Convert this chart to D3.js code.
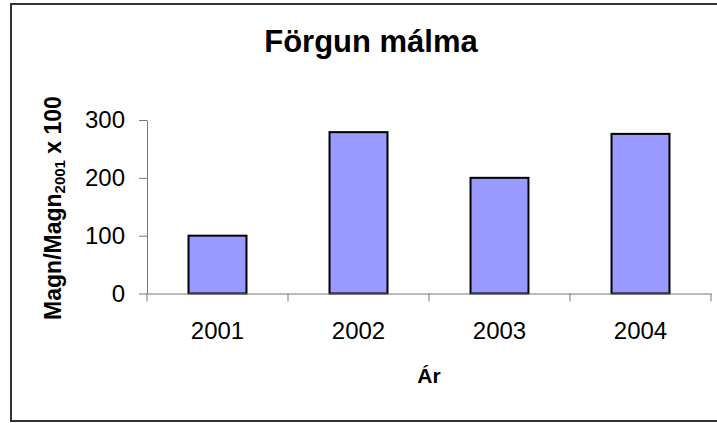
<!DOCTYPE html>
<html>
<head>
<meta charset="utf-8">
<script src="https://cdn.jsdelivr.net/npm/d3@7"></script>
<style>
  body { margin: 0; background: #fff; }
  svg { display: block; font-family: "Liberation Sans", Arial, sans-serif; }
</style>
</head>
<body>
<svg id="chart" width="717" height="423"></svg>
<script>
let years = ["2001", "2002", "2003", "2004"],
    values = [100, 279, 200, 276],
    yTicks = [0, 100, 200, 300];

let plot = {left: 147, right: 711, top: 120, bottom: 293.5};

let svg = d3.select("#chart");

// outer frame (runs off the right edge like the original)
svg.append("rect")
  .attr("x", 11).attr("y", 4)
  .attr("width", 730).attr("height", 417)
  .attr("fill", "#fff")
  .attr("stroke", "#333")
  .attr("stroke-width", 2);

let x = d3.scaleBand().domain(years).range([plot.left, plot.right])
      .paddingInner(0.589).paddingOuter(0.2945),
    y = d3.scaleLinear().domain([0, 300]).range([plot.bottom, plot.top]);

// bars
svg.selectAll("rect.bar")
  .data(values)
  .enter().append("rect")
    .attr("class", "bar")
    .attr("x", (d, i) => x(years[i]))
    .attr("y", d => y(d))
    .attr("width", x.bandwidth())
    .attr("height", d => y(0) - y(d))
    .attr("fill", "#9999ff")
    .attr("stroke", "#000")
    .attr("stroke-width", 2);

// y axis
let yAxis = d3.axisLeft(y).tickValues(yTicks).tickSize(8).tickPadding(14).tickSizeOuter(0);
let gy = svg.append("g").attr("transform", "translate(" + plot.left + ",0)").call(yAxis);
gy.select(".domain").attr("stroke", "#777");
gy.selectAll(".tick line").attr("stroke", "#777");
gy.selectAll(".tick text").attr("font-size", "24px").attr("font-family", "Liberation Sans, Arial").attr("fill", "#000");

// x axis: labels centered in bands, ticks between categories
let xAxis = d3.axisBottom(x).tickSize(0).tickPadding(28).tickSizeOuter(0);
let gx = svg.append("g").attr("transform", "translate(0," + plot.bottom + ")").call(xAxis);
gx.select(".domain").attr("stroke", "#777");
gx.selectAll(".tick text").attr("font-size", "24px").attr("font-family", "Liberation Sans, Arial").attr("fill", "#000");

let edges = d3.range(years.length + 1).map(i => plot.left + i * x.step());
gx.selectAll("line.sep")
  .data(edges)
  .enter().append("line")
    .attr("class", "sep")
    .attr("x1", d => d).attr("x2", d => d)
    .attr("y1", 0).attr("y2", 8)
    .attr("stroke", "#777");

// title
svg.append("text")
  .attr("x", 371).attr("y", 52)
  .attr("text-anchor", "middle")
  .style("font-size", "31px")
  .style("font-weight", "bold")
  .text("Förgun málma");

// x label
svg.append("text")
  .attr("x", (plot.left + plot.right) / 2).attr("y", 383)
  .attr("text-anchor", "middle")
  .style("font-size", "21px")
  .style("font-weight", "bold")
  .text("Ár");

// y label with subscript
let yl = svg.append("text")
  .attr("transform", "translate(61,208) rotate(-90)")
  .attr("text-anchor", "middle")
  .style("font-size", "23px")
  .style("font-weight", "bold");
yl.append("tspan").text("Magn/Magn");
yl.append("tspan").attr("dy", 4).style("font-size", "15px").text("2001");
yl.append("tspan").attr("dy", -4).text(" x 100");
</script>
</body>
</html>
